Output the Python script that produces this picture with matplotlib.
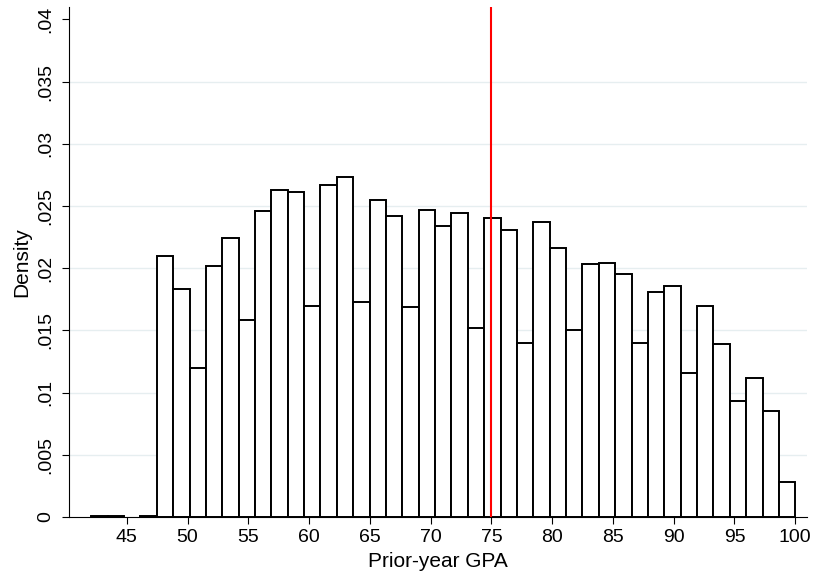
import matplotlib
matplotlib.use("Agg")
import matplotlib.pyplot as plt
import numpy as np
from matplotlib.ticker import FuncFormatter

# histogram of prior-year GPA (43 equal bins between min and max)
gpa_min = 42.08
gpa_max = 100.0
density = [
    0.0001, 0.0001, 0.0, 0.0001,
    0.0210, 0.0183, 0.0120, 0.0202, 0.0224, 0.0158, 0.0246, 0.0263,
    0.0261, 0.0170, 0.0267, 0.0273, 0.0173, 0.0255, 0.0242, 0.0169,
    0.0247, 0.0234, 0.0244, 0.0152, 0.0240, 0.0231, 0.0140, 0.0237,
    0.0216, 0.0150, 0.0203, 0.0204, 0.0195, 0.0140, 0.0181, 0.0186,
    0.0116, 0.0170, 0.0139, 0.0093, 0.0112, 0.0085, 0.0028,
]
cutoff = 75
xticks = list(range(45, 101, 5))
yticks = [0, 0.005, 0.01, 0.015, 0.02, 0.025, 0.03, 0.035, 0.04]

plt.rcParams["font.family"] = ["Liberation Sans", "DejaVu Sans"]

fig = plt.figure(figsize=(8.15, 5.77), dpi=100)
ax = fig.add_axes([0.0847, 0.104, 0.906, 0.884])

edges = np.linspace(gpa_min, gpa_max, len(density) + 1)
dens = np.array(density)
keep = dens > 0
ax.bar(edges[:-1][keep], dens[keep], width=np.diff(edges)[keep], align="edge",
       color="white", edgecolor="black", linewidth=1.4, zorder=2)

ax.axvline(cutoff, color="#ff0000", linewidth=1.5, zorder=3)

for y in yticks[1:-1]:
    ax.axhline(y, color="#e6eef0", linewidth=1.0, zorder=0)

ax.set_xlim(40.25, 101.0)
ax.set_ylim(0, 0.041)
ax.set_xticks(xticks)
ax.set_yticks(yticks)
ax.yaxis.set_major_formatter(
    FuncFormatter(lambda v, p: "0" if v == 0 else f"{v:g}".lstrip("0")))
ax.tick_params(axis="both", direction="out", length=5, width=0.8,
               labelsize=14, color="black")
ax.tick_params(axis="x", pad=4)
ax.tick_params(axis="y", pad=6)
for lab in ax.get_yticklabels():
    lab.set_rotation(90)
    lab.set_va("center")

ax.spines["top"].set_visible(False)
ax.spines["right"].set_visible(False)
ax.spines["left"].set_linewidth(0.8)
ax.spines["bottom"].set_linewidth(0.8)

ax.set_xlabel("Prior-year GPA", fontsize=15, labelpad=4)
ax.set_ylabel("Density", fontsize=15, labelpad=4)

fig.savefig("out.png", dpi=100)
plt.close(fig)
